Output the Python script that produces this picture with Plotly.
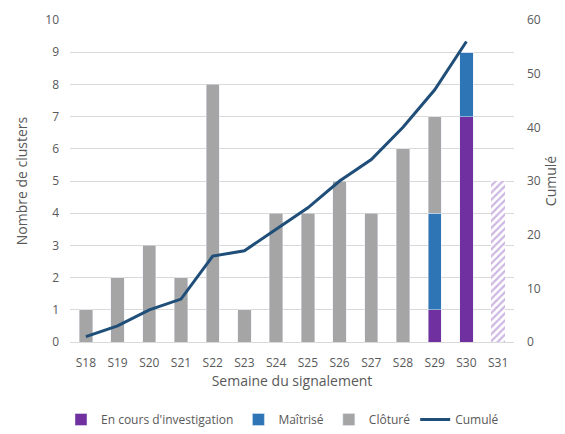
import plotly.graph_objects as go

weeks = ["S18","S19","S20","S21","S22","S23","S24","S25","S26","S27","S28","S29","S30","S31"]
en_cours = [0,0,0,0,0,0,0,0,0,0,0,1,7,0]
maitrise = [0,0,0,0,0,0,0,0,0,0,0,3,2,0]
cloture = [1,2,3,2,8,1,4,4,5,4,6,3,0,0]
en_cours_prov = [0,0,0,0,0,0,0,0,0,0,0,0,0,5]
cumul_weeks = weeks[:13]
cumul = [1,3,6,8,16,17,21,25,30,34,40,47,56]

txt = "#595959"
fig = go.Figure()
fig.add_bar(x=weeks, y=en_cours, name="En cours d'investigation", marker_color="#7030A0")
fig.add_bar(x=weeks, y=maitrise, name="Maîtrisé", marker_color="#2E75B6")
fig.add_bar(x=weeks, y=cloture, name="Clôturé", marker_color="#A5A5A5")
fig.add_bar(x=weeks, y=en_cours_prov, showlegend=False,
            marker=dict(color="white", line=dict(width=0),
                        pattern=dict(shape="/", fgcolor="#9B6FC6", bgcolor="white", size=5, solidity=0.45)))
fig.add_scatter(x=cumul_weeks, y=cumul, name="Cumulé", yaxis="y2", mode="lines",
                line=dict(color="#1F4E79", width=3))

fig.update_layout(
    width=565, height=434, barmode="stack", bargap=0.58,
    margin=dict(l=70, r=51, t=20, b=92),
    plot_bgcolor="white", paper_bgcolor="white",
    font=dict(family="Open Sans, Liberation Sans, sans-serif", size=12, color=txt),
    xaxis=dict(title=dict(text="Semaine du signalement", font=dict(size=14), standoff=4),
               showline=True, linecolor="#D9D9D9", ticks="", tickfont=dict(size=12),
               ticklabelstandoff=10, automargin=False),
    yaxis=dict(title=dict(text="Nombre de clusters", font=dict(size=14), standoff=14),
               range=[0, 10], dtick=1, gridcolor="#D9D9D9", zeroline=False,
               tickfont=dict(size=12), ticklabelstandoff=10, automargin=False),
    yaxis2=dict(title=dict(text="Cumulé", font=dict(size=14), standoff=6),
                range=[0, 60], dtick=10, overlaying="y", side="right", showgrid=False,
                zeroline=False, tickfont=dict(size=12), ticklabelstandoff=12, automargin=False),
    legend=dict(orientation="h", x=0.5, xanchor="center", xref="container",
                y=0.0, yanchor="bottom", yref="container",
                font=dict(size=12), traceorder="normal"),
)
fig.write_html("out.html", config={"displayModeBar": False},
               post_script="document.body.style.margin='0';")
